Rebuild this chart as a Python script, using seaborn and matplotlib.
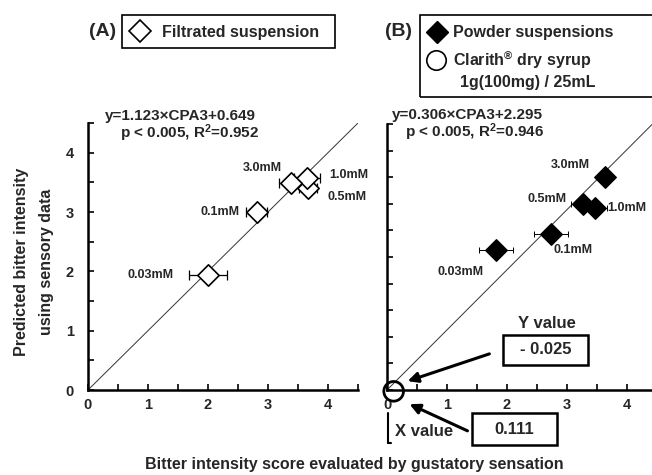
import numpy as np
import matplotlib
matplotlib.use("Agg")
import matplotlib.pyplot as plt
import seaborn as sns
from matplotlib.lines import Line2D
from matplotlib.patches import Rectangle
from matplotlib.ticker import MultipleLocator, NullFormatter

# ---------------- data ----------------
conc_labels = ["0.03mM", "0.1mM", "0.5mM", "1.0mM", "3.0mM"]

filt_x = [2.00, 2.81, 3.67, 3.65, 3.39]
filt_y = [1.94, 3.00, 3.41, 3.57, 3.49]
filt_xerr = [0.32, 0.17, 0.15, 0.22, 0.21]

powd_x = [1.82, 2.73, 3.27, 3.47, 3.63]
powd_y = [2.63, 2.93, 3.49, 3.43, 4.01]
powd_xerr = [0.28, 0.28, 0.21, 0.19, 0.08]

clarith_x = [0.111]
clarith_y = [-0.025]

ref_slope = [1.0, 1.13]

eq_A = ["y=1.123\u00d7CPA3+0.649", "p < 0.005, R$^{2}$=0.952"]
eq_B = ["y=0.306\u00d7CPA3+2.295", "p < 0.005, R$^{2}$=0.946"]

legend_A = ["Filtrated suspension"]
legend_B = ["Powder suspensions", "Clarith$^{\u00ae}$ dry syrup", "1g(100mg) / 25mL"]
y_value_txt = ["Y value", "- 0.025"]
x_value_txt = ["X value", "0.111"]

# label offsets (points) and alignment
offs_A = [(-25, 0, "right", "center"), (-12, 0, "right", "center"),
          (14, -6.5, "left", "center"), (16, 2, "left", "center"),
          (-21, 11, "center", "center")]
offs_B = [(-26, -16, "center", "center"), (2, -11.5, "left", "center"),
          (-12, 3.6, "right", "center"), (8.6, 0, "left", "center"),
          (-25, 8.6, "center", "center")]

# ---------------- style ----------------
sns.set_style("ticks")
plt.rcParams["font.family"] = ["Liberation Sans", "DejaVu Sans"]
plt.rcParams["font.weight"] = "bold"
plt.rcParams["mathtext.fontset"] = "custom"
plt.rcParams["mathtext.rm"] = "Liberation Sans:bold"
plt.rcParams["mathtext.default"] = "rm"

W, H = 652, 475
fig = plt.figure(figsize=(W / 100, H / 100), dpi=100)

def px(x0, y0, x1, y1):
    return [x0 / W, 1 - y1 / H, (x1 - x0) / W, (y1 - y0) / H]

def fx(x):
    return x / W

def fy(y):
    return 1 - y / H

axA = fig.add_axes(px(88, 123, 358, 390))
axB = fig.add_axes(px(387, 124, 657, 390))

def style_axis(ax, ylim, ylabels):
    ax.set_xlim(0, 4.5)
    ax.set_ylim(*ylim)
    ax.xaxis.set_major_locator(MultipleLocator(1))
    ax.xaxis.set_minor_locator(MultipleLocator(0.5))
    ax.yaxis.set_major_locator(MultipleLocator(1))
    ax.yaxis.set_minor_locator(MultipleLocator(0.5))
    for s in ["top", "right"]:
        ax.spines[s].set_visible(False)
    for s in ["left", "bottom"]:
        ax.spines[s].set_linewidth(1.8)
        ax.spines[s].set_color("black")
    ax.tick_params(which="both", direction="in", length=4, width=1.2, color="black")
    ax.tick_params(axis="x", which="major", labelsize=10.5, pad=6)
    ax.tick_params(axis="y", which="major", labelsize=10.5, pad=10)
    if not ylabels:
        ax.yaxis.set_major_formatter(NullFormatter())
    ax.set_facecolor("white")

style_axis(axA, (0, 4.5), True)
style_axis(axB, (0, 5.0), False)

# reference lines
axA.axline((0, 0), slope=ref_slope[0], color="#333333", lw=0.7, zorder=1)
axB.axline((0, 0), slope=ref_slope[1], color="#333333", lw=0.7, zorder=1)

# error bars
axA.errorbar(filt_x, filt_y, xerr=filt_xerr, fmt="none", ecolor="black",
             elinewidth=0.9, capsize=3.6, capthick=0.9, zorder=2)
axB.errorbar(powd_x, powd_y, xerr=powd_xerr, fmt="none", ecolor="black",
             elinewidth=0.7, capsize=2, capthick=0.7, zorder=2)

# points
sns.scatterplot(x=filt_x, y=filt_y, marker="D", s=118, color="white",
                edgecolor="black", linewidth=1.2, ax=axA, zorder=3)
sns.scatterplot(x=powd_x, y=powd_y, marker="D", s=120, color="black",
                edgecolor="black", linewidth=1.0, ax=axB, zorder=3)
sns.scatterplot(x=clarith_x, y=clarith_y, marker="o", s=200, color="none",
                edgecolor="black", linewidth=2.0, ax=axB, zorder=5, clip_on=False)

for i, lab in enumerate(conc_labels):
    dx, dy, ha, va = offs_A[i]
    axA.annotate(lab, (filt_x[i], filt_y[i]), xytext=(dx, dy), textcoords="offset points",
                 ha=ha, va=va, fontsize=9, fontweight="bold")
    dx, dy, ha, va = offs_B[i]
    axB.annotate(lab, (powd_x[i], powd_y[i]), xytext=(dx, dy), textcoords="offset points",
                 ha=ha, va=va, fontsize=9, fontweight="bold")

# equations
fig.text(fx(105), fy(116), eq_A[0], fontsize=11, va="center", ha="left")
fig.text(fx(120), fy(133), eq_A[1], fontsize=11, va="center", ha="left")
fig.text(fx(392), fy(115), eq_B[0], fontsize=11, va="center", ha="left")
fig.text(fx(405), fy(132), eq_B[1], fontsize=11, va="center", ha="left")

# panel tags
fig.text(fx(89), fy(32), "(A)", fontsize=14, fontweight="bold", va="center", ha="left")
fig.text(fx(385), fy(31), "(B)", fontsize=14, fontweight="bold", va="center", ha="left")

# legend boxes (drawn as key boxes)
fig.add_artist(Rectangle((fx(122), fy(48)), fx(335) - fx(122), fy(15) - fy(48),
                         fill=False, edgecolor="black", lw=1.2, transform=fig.transFigure))
fig.add_artist(Line2D([fx(140)], [fy(31)], marker="D", ls="none", markersize=11,
                      markerfacecolor="white", markeredgecolor="black", markeredgewidth=1.2))
fig.text(fx(162), fy(32), legend_A[0], fontsize=11.5, va="center", ha="left")

fig.add_artist(Rectangle((fx(420), fy(97)), fx(670) - fx(420), fy(15) - fy(97),
                         fill=False, edgecolor="black", lw=1.2, transform=fig.transFigure))
fig.add_artist(Line2D([fx(437)], [fy(32)], marker="D", ls="none", markersize=11,
                      markerfacecolor="black", markeredgecolor="black"))
fig.add_artist(Line2D([fx(436)], [fy(60)], marker="o", ls="none", markersize=14,
                      markerfacecolor="none", markeredgecolor="black", markeredgewidth=1.2))
fig.text(fx(453), fy(32), legend_B[0], fontsize=11.5, va="center", ha="left")
fig.text(fx(453), fy(60), legend_B[1], fontsize=11.5, va="center", ha="left")
fig.text(fx(460), fy(82), legend_B[2], fontsize=11.5, va="center", ha="left")

# axis labels
fig.text(fx(34), fy(262), "Predicted bitter intensity\nusing sensory data", rotation=90,
         fontsize=11.5, ha="center", va="center", linespacing=1.9)
fig.text(fx(354), fy(465), "Bitter intensity score evaluated by gustatory sensation",
         fontsize=11.5, ha="center", va="center")

# Y value / X value callouts
fig.text(fx(547), fy(323), y_value_txt[0], fontsize=12, ha="center", va="center")
fig.add_artist(Rectangle((fx(503), fy(365)), fx(588) - fx(503), fy(335) - fy(365),
                         fill=False, edgecolor="black", lw=1.8, transform=fig.transFigure))
fig.text(fx(546), fy(350), y_value_txt[1], fontsize=12, ha="center", va="center")

fig.text(fx(424), fy(432), x_value_txt[0], fontsize=12, ha="center", va="center")
fig.add_artist(Rectangle((fx(472), fy(445)), fx(557) - fx(472), fy(413) - fy(445),
                         fill=False, edgecolor="black", lw=1.8, transform=fig.transFigure))
fig.text(fx(514), fy(429), x_value_txt[1], fontsize=12, ha="center", va="center")

arrow_kw = dict(arrowstyle="-|>,head_length=0.6,head_width=0.3", color="black", lw=2.2)
axB.annotate("", xy=(fx(405), fy(382)), xycoords="figure fraction",
             xytext=(fx(492), fy(353)), textcoords="figure fraction", arrowprops=arrow_kw)
axB.annotate("", xy=(fx(407), fy(403)), xycoords="figure fraction",
             xytext=(fx(470), fy(432)), textcoords="figure fraction", arrowprops=arrow_kw)
fig.add_artist(Line2D([fx(388), fx(388)], [fy(413), fy(443)], color="black", lw=1.5))
fig.add_artist(Line2D([fx(388), fx(391)], [fy(443), fy(443)], color="black", lw=1.5))

fig.savefig("out.png", dpi=100, facecolor="white")
